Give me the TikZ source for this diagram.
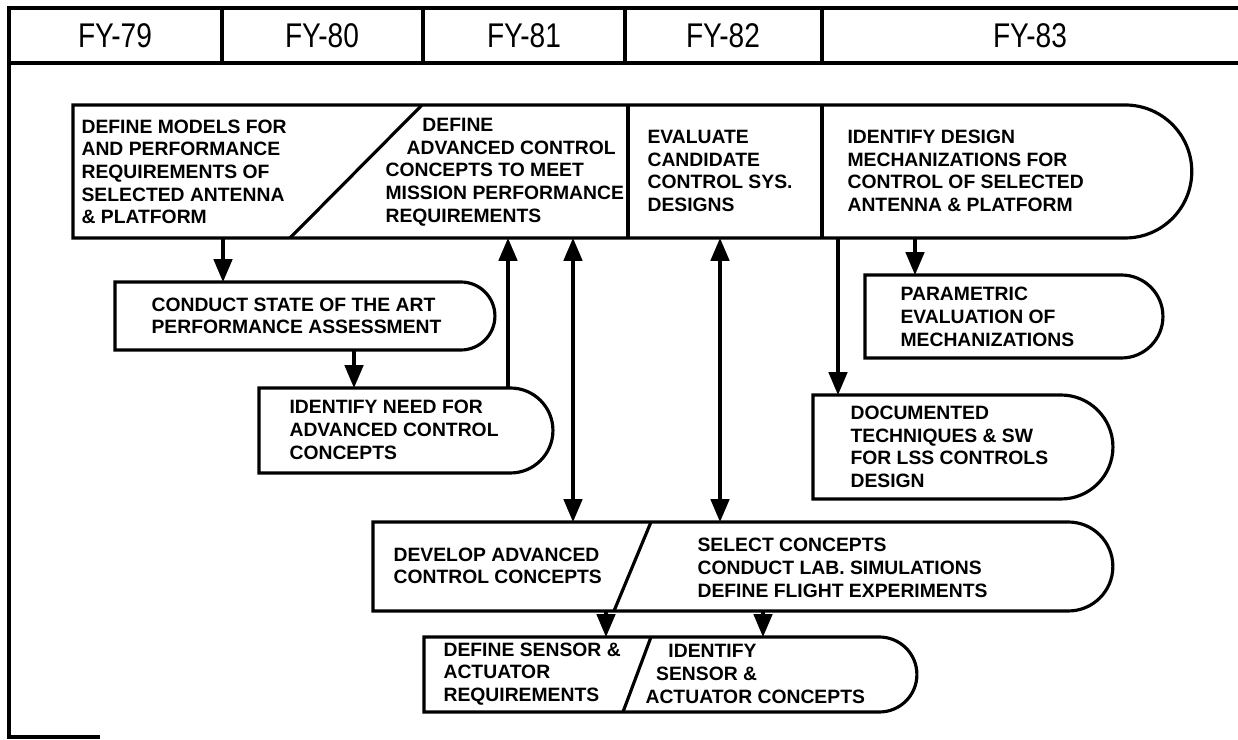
\documentclass[tikz,border=0pt]{standalone}
\usepackage{fontspec}
\usetikzlibrary{shapes.misc, arrows.meta}
\newfontfamily\boxfam{Liberation Sans}
\newfontfamily\hdrfam[FakeStretch=0.82]{Liberation Sans}
\newcommand{\boxfont}{\boxfam\bfseries\fontsize{11pt}{12.9pt}\selectfont}
\newcommand{\hdrfont}{\hdrfam\fontsize{19.5pt}{21pt}\selectfont}
\tikzset{
  taskbox/.style={draw, rounded rectangle, rounded rectangle west arc=none,
    inner sep=0pt, outer sep=0pt, anchor=north west},
  lbl/.style={anchor=west, align=left, inner sep=0pt, font=\boxfont},
  yr/.style={font=\hdrfont, inner sep=0pt},
  arr/.style={-{Triangle[length=13pt,width=10.5pt]}},
  dbl/.style={{Triangle[length=13pt,width=10.5pt]}-{Triangle[length=13pt,width=10.5pt]}}
}

\begin{document}
\begin{tikzpicture}[x=0.02cm, y=-0.02cm, line width=1.8pt]
  \useasboundingbox (0,0) rectangle (1238,740);
  % Frame and year header
  \draw (1238,8) -- (9,8) -- (9,737) -- (100,737);
  \draw (9,63) -- (1238,63);
  \foreach \x in {222,423,625,822} \draw (\x,8) -- (\x,63);
  \foreach \x/\yr in {115/79, 322/80, 524/81, 723/82, 1030/83}
    \node[yr] (fy\yr) at (\x,36) {FY-\yr};

  % Top row of tasks
  \node[taskbox, minimum width=22.38cm, minimum height=2.66cm] (topbox) at (73,105) {};
  \draw (topbox.north -| 422,0) -- (topbox.south -| 290,0);
  \draw (topbox.north -| 628,0) -- (topbox.south -| 628,0);
  \draw (topbox.north -| 822,0) -- (topbox.south -| 822,0);
  \node[lbl] (tmodels) at (80,172) {DEFINE MODELS FOR\\AND PERFORMANCE\\REQUIREMENTS OF\\SELECTED ANTENNA\\\& PLATFORM};
  \node[lbl] (tdefine) at (384,172) {\hspace*{21pt}DEFINE\\\hspace*{12pt}ADVANCED CONTROL\\CONCEPTS TO MEET\\MISSION PERFORMANCE\\REQUIREMENTS};
  \node[lbl] (teval) at (646,171) {EVALUATE\\CANDIDATE\\CONTROL SYS.\\DESIGNS};
  \node[lbl] (tmech) at (846,171) {IDENTIFY DESIGN\\MECHANIZATIONS FOR\\CONTROL OF SELECTED\\ANTENNA \& PLATFORM};

  % Left branch
  \node[taskbox, minimum width=7.6cm, minimum height=1.36cm] (conduct) at (115,282) {};
  \node[lbl] (tconduct) at (150,316) {CONDUCT STATE OF THE ART\\PERFORMANCE ASSESSMENT};
  \node[taskbox, minimum width=5.88cm, minimum height=1.7cm] (need) at (259,388) {};
  \node[lbl] (tneed) at (288,430) {IDENTIFY NEED FOR\\ADVANCED CONTROL\\CONCEPTS};
  \draw[arr] (topbox.south -| 223,0) -- (conduct.north -| 223,0);
  \draw[arr] (conduct.south -| 354,0) -- (need.north -| 354,0);
  \draw[arr] (need.north -| 508,0) -- (topbox.south -| 508,0);

  % Right branch
  \node[taskbox, minimum width=5.96cm, minimum height=1.66cm] (param) at (865,275) {};
  \node[lbl] (tparam) at (899,317) {PARAMETRIC\\EVALUATION OF\\MECHANIZATIONS};
  \node[taskbox, minimum width=6.0cm, minimum height=2.08cm] (docum) at (813,395) {};
  \node[lbl] (tdocum) at (849,447) {DOCUMENTED\\TECHNIQUES \& SW\\FOR LSS CONTROLS\\DESIGN};
  \draw[arr] (topbox.south -| 915,0) -- (param.north -| 915,0);
  \draw[arr] (topbox.south -| 838,0) -- (docum.north -| 838,0);

  % Concept development
  \node[taskbox, minimum width=14.8cm, minimum height=1.78cm] (develop) at (373,522) {};
  \draw (develop.north -| 651,0) -- (develop.south -| 614,0);
  \node[lbl] (tdevelop) at (392,566) {DEVELOP ADVANCED\\CONTROL CONCEPTS};
  \node[lbl] (tselect) at (696,568) {SELECT CONCEPTS\\CONDUCT LAB. SIMULATIONS\\DEFINE FLIGHT EXPERIMENTS};
  \draw[dbl] (topbox.south -| 573,0) -- (develop.north -| 573,0);
  \draw[dbl] (topbox.south -| 720,0) -- (develop.north -| 720,0);

  % Sensors and actuators
  \node[taskbox, minimum width=9.86cm, minimum height=1.5cm] (sensor) at (424,637) {};
  \draw (sensor.north -| 651,0) -- (sensor.south -| 623,0);
  \node[lbl] (tsensreq) at (442,674) {DEFINE SENSOR \&\\ACTUATOR\\REQUIREMENTS};
  \node[lbl] (tsenscon) at (644,674) {\hspace*{13pt}IDENTIFY\\\hspace*{6pt}SENSOR \&\\ACTUATOR CONCEPTS};
  \draw[arr] (develop.south -| 606,0) -- (sensor.north -| 606,0);
  \draw[arr] (develop.south -| 763,0) -- (sensor.north -| 763,0);
\end{tikzpicture}
\end{document}
